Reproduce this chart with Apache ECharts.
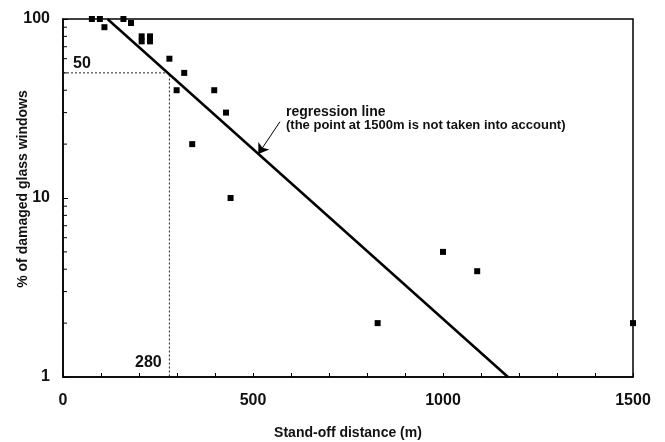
<!DOCTYPE html>
<html>
<head>
<meta charset="utf-8">
<script src="https://cdn.jsdelivr.net/npm/echarts@6/dist/echarts.min.js"></script>
<style>
  html, body { margin: 0; padding: 0; background: #fff; }
  #chart { width: 665px; height: 442px; }
</style>
</head>
<body>
<div id="chart"></div>
<script>
// measured points (stand-off distance in m, % damaged windows)
var distance = [76, 97, 109, 159, 179, 207, 207, 229, 229, 280, 299, 319, 340, 398, 429, 441, 828, 1000, 1090, 1500];
var damage   = [100, 100, 90, 100, 95, 80, 75, 80, 75, 60, 40, 50, 20, 40, 30, 10, 2, 5, 3.9, 2];

// regression line ends
var regressionX = [117, 1171];
var regressionY = [100, 1];

// dashed reading at 50 %
var readX = [0, 280, 280];
var readY = [50, 50, 1];

var xLabelValues = [0, 500, 1000, 1500];
var yMinorTicks = [2, 3, 4, 5, 6, 7, 8, 9, 20, 30, 40, 50, 60, 70, 80, 90];

// arrow of the annotation (tail, tip)
var arrowFrom = [571, 26.7];
var arrowTo = [514, 17.6];

var font = '"Liberation Sans", Arial, sans-serif';

function pairs(xs, ys) {
    var out = [];
    for (var i = 0; i < xs.length; i++) out.push([xs[i], ys[i]]);
    return out;
}

function label(x, y, text, size) {
    return {
        type: 'text', left: x, top: y,
        style: { text: text, fontFamily: 'Arial', fontWeight: 'bold', fontSize: size, fill: '#111' }
    };
}

var chart = echarts.init(document.getElementById('chart'));

chart.setOption({
    animation: false,
    backgroundColor: '#fff',
    grid: {
        left: 63, top: 19, right: 32, bottom: 65,
        outerBoundsMode: 'none',
        show: true, borderColor: '#000', borderWidth: 1.5
    },
    xAxis: {
        type: 'value', min: 0, max: 1500, interval: 100,
        name: 'Stand-off distance (m)', nameLocation: 'middle', nameGap: 49, nameMoveOverlap: false,
        nameTextStyle: { fontFamily: font, fontWeight: 'bold', fontSize: 14, color: '#111' },
        axisLine: { lineStyle: { color: '#000', width: 1.5 } },
        axisTick: { inside: true, length: 4, lineStyle: { color: '#000' } },
        axisLabel: {
            margin: 16, fontFamily: font, fontWeight: 'bold', fontSize: 16, color: '#111',
            formatter: function (v) { return xLabelValues.indexOf(v) >= 0 ? String(v) : ''; }
        },
        splitLine: { show: false }
    },
    yAxis: {
        type: 'log', logBase: 10, min: 1, max: 100,
        name: '% of damaged glass windows', nameLocation: 'middle', nameGap: 33, nameMoveOverlap: false,
        nameTextStyle: { fontFamily: font, fontWeight: 'bold', fontSize: 14, color: '#111', padding: [0, 0, 0, 18] },
        axisLine: { show: true, lineStyle: { color: '#000', width: 1.5 } },
        axisTick: { inside: true, length: 5, lineStyle: { color: '#000' } },
        axisLabel: { margin: 13, fontFamily: font, fontWeight: 'bold', fontSize: 16, color: '#111' },
        splitLine: { show: false }
    },
    graphic: [
        label(286, 105, 'regression line', 14),
        label(286, 119, '(the point at 1500m is not taken into account)', 13),
        label(73, 56, '50', 16),
        label(135, 355, '280', 16)
    ],
    series: [
        {
            type: 'custom',
            renderItem: function (params, api) {
                var p = api.coord([0, api.value(0)]);
                return {
                    type: 'line',
                    shape: { x1: p[0], y1: p[1], x2: p[0] + 4, y2: p[1] },
                    style: { stroke: '#000', lineWidth: 1 }
                };
            },
            data: yMinorTicks.map(function (v) { return [v]; }),
            encode: { y: 0 },
            silent: true, clip: false
        },
        {
            type: 'line',
            data: pairs(readX, readY),
            symbol: 'none',
            lineStyle: { color: '#222', width: 1, type: [2, 2] },
            silent: true
        },
        {
            type: 'line',
            data: pairs(regressionX, regressionY),
            symbol: 'none',
            lineStyle: { color: '#000', width: 2.5 },
            clip: false,
            markLine: {
                silent: true,
                label: { show: false },
                lineStyle: { color: '#000', width: 1, type: 'solid' },
                data: [[
                    { coord: arrowFrom, symbol: 'none' },
                    { coord: arrowTo, symbol: 'arrow', symbolSize: 10 }
                ]]
            }
        },
        {
            type: 'scatter',
            data: pairs(distance, damage),
            symbol: 'rect',
            symbolSize: 6,
            itemStyle: { color: '#000', opacity: 1 },
            clip: false
        }
    ]
});
</script>
</body>
</html>
